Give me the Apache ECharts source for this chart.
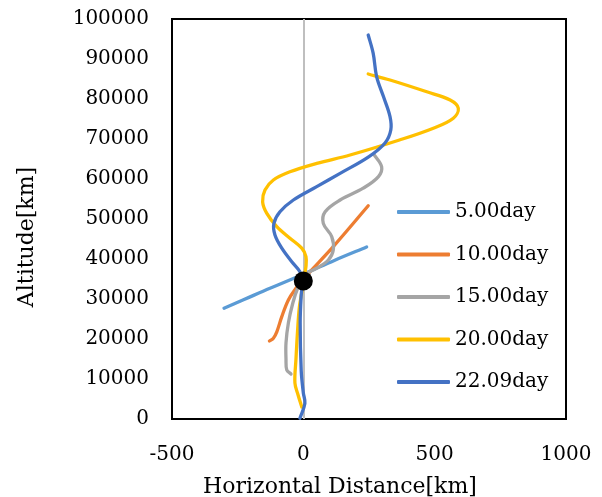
<!DOCTYPE html>
<html>
<head>
<meta charset="utf-8">
<script src="https://cdn.jsdelivr.net/npm/echarts@6/dist/echarts.min.js"></script>
<style>html,body{margin:0;padding:0;background:#fff;}#c{width:602px;height:497px;}</style>
</head>
<body>
<div id="c"></div>
<script>
var seriesNames = ['5.00day', '10.00day', '15.00day', '20.00day', '22.09day'];
var seriesColors = ['#5B9BD5', '#ED7D31', '#A5A5A5', '#FFC000', '#4472C4'];
var xTicks = [-500, 0, 500, 1000];
var yTicks = [0, 10000, 20000, 30000, 40000, 50000, 60000, 70000, 80000, 90000, 100000];

var day5 = [[-302, 27700], [-228, 29800], [-127, 32700], [0, 36200], [120, 39700], [241, 43000]];
var day10 = [[-129, 19500], [-114, 20200], [-101, 21800], [-82, 25600], [-57, 29750], [-30, 32500], [0, 35000], [25, 36800], [114, 43100], [247, 53300]];
var day15 = [[-47, 11250], [-63, 12250], [-66, 15000], [-66, 19000], [-57, 24000], [-40, 29000], [-20, 33000], [0, 35300], [13, 36400], [51, 37700], [95, 39750], [114, 42250], [108, 45600], [76, 48900], [83, 51800], [140, 54750], [228, 57700], [286, 60600], [298, 63100], [268, 66200]];
var day20 = [[-6, 3000], [-20, 6000], [-32, 9000], [-28, 15000], [-22, 22000], [-15, 28000], [-5, 32000], [3, 35600], [10, 38100], [10, 40600], [-6, 42700], [-51, 45200], [-101, 48100], [-139, 51400], [-155, 54300], [-146, 57250], [-114, 59750], [-51, 61800], [51, 63900], [178, 66000], [366, 69750], [495, 72700], [571, 75200], [590, 77700], [559, 79750], [470, 81800], [330, 84750], [247, 86250]];
var day22 = [[-13, 200], [6, 3900], [0, 6500], [-8, 12000], [-12, 24000], [-8, 31000], [-3, 34500], [-13, 36800], [-44, 39300], [-82, 42700], [-108, 46000], [-112, 48900], [-89, 51800], [-38, 54750], [51, 58100], [140, 61400], [250, 65600], [311, 69000], [333, 72250], [330, 75600], [305, 80600], [279, 85600], [266, 91400], [247, 96000]];
var markerPoint = [[0, 34500]];

var allData = [day5, day10, day15, day20, day22];
var FONT = '"DejaVu Serif", serif';
var TENSION = 0.36;

// Smooth cubic path through pixel points (Excel-like smoothed line)
function smoothPath(p) {
  var n = p.length;
  var d = 'M' + p[0][0] + ' ' + p[0][1];
  function tangent(i) {
    var prev = p[Math.max(i - 1, 0)], next = p[Math.min(i + 1, n - 1)], cur = p[i];
    var l0 = Math.hypot(cur[0] - prev[0], cur[1] - prev[1]);
    var l1 = Math.hypot(next[0] - cur[0], next[1] - cur[1]);
    var s = l0 + l1 || 1;
    return {vx: next[0] - prev[0], vy: next[1] - prev[1], rIn: l0 / s, rOut: l1 / s};
  }
  for (var i = 0; i < n - 1; i++) {
    var a = p[i], b = p[i + 1];
    var ta = tangent(i), tb = tangent(i + 1);
    var c1x = a[0] + ta.vx * TENSION * ta.rOut, c1y = a[1] + ta.vy * TENSION * ta.rOut;
    var c2x = b[0] - tb.vx * TENSION * tb.rIn, c2y = b[1] - tb.vy * TENSION * tb.rIn;
    d += ' C' + c1x + ' ' + c1y + ' ' + c2x + ' ' + c2y + ' ' + b[0] + ' ' + b[1];
  }
  return d;
}

var series = [{
  type: 'line', name: 'zero', data: [], silent: true, z: 1,
  markLine: {
    silent: true, symbol: 'none', label: {show: false},
    lineStyle: {color: '#BFBFBF', width: 2, type: 'solid'},
    data: [{xAxis: 0}]
  }
}];
allData.forEach(function (d, i) {
  series.push({
    type: 'custom', name: seriesNames[i], data: d, z: 2 + i, silent: true,
    encode: {x: 0, y: 1},
    itemStyle: {color: seriesColors[i]},
    renderItem: function (params, api) {
      if (params.dataIndex !== 0) return null;
      var pts = d.map(function (pt) { return api.coord(pt); });
      return {
        type: 'path',
        shape: {pathData: smoothPath(pts)},
        style: {fill: 'none', stroke: seriesColors[i], lineWidth: 3.3, lineCap: 'round', lineJoin: 'round'}
      };
    }
  });
});
series.push({
  type: 'scatter', name: 'point', data: markerPoint, symbolSize: 19, z: 20,
  itemStyle: {color: '#000', opacity: 1}
});

function plain(v) { return String(v); }

var chart = echarts.init(document.getElementById('c'));
chart.setOption({
  animation: false,
  backgroundColor: '#fff',
  grid: {left: 172, right: 36, top: 19, bottom: 78, show: true, borderColor: '#000', borderWidth: 2, backgroundColor: 'transparent'},
  xAxis: {
    type: 'value', min: xTicks[0], max: xTicks[xTicks.length - 1], interval: 500,
    axisLine: {show: false}, axisTick: {show: false}, splitLine: {show: false},
    axisLabel: {fontFamily: FONT, fontSize: 20, color: '#000', margin: 26, formatter: plain}
  },
  yAxis: {
    type: 'value', min: yTicks[0], max: yTicks[yTicks.length - 1], interval: 10000,
    axisLine: {show: false}, axisTick: {show: false}, splitLine: {show: false},
    axisLabel: {fontFamily: FONT, fontSize: 20, color: '#000', margin: 23, formatter: plain}
  },
  legend: {
    data: seriesNames.map(function (nm, i) {
      return {name: nm, icon: 'roundRect', itemStyle: {color: seriesColors[i]}};
    }),
    orient: 'vertical', left: 392, top: 196,
    itemWidth: 53, itemHeight: 4, itemGap: 20.5,
    textStyle: {fontFamily: FONT, fontSize: 20, color: '#000', lineHeight: 22},
    backgroundColor: '#fff'
  },
  graphic: [
    {type: 'text', x: 340, y: 487, style: {text: 'Horizontal Distance[km]', font: '22px "DejaVu Serif"', fill: '#000', align: 'center', verticalAlign: 'middle'}},
    {type: 'text', x: 27, y: 237, rotation: Math.PI / 2, style: {text: 'Altitude[km]', font: '22px "DejaVu Serif"', fill: '#000', align: 'center', verticalAlign: 'middle'}}
  ],
  series: series
});
</script>
</body>
</html>
